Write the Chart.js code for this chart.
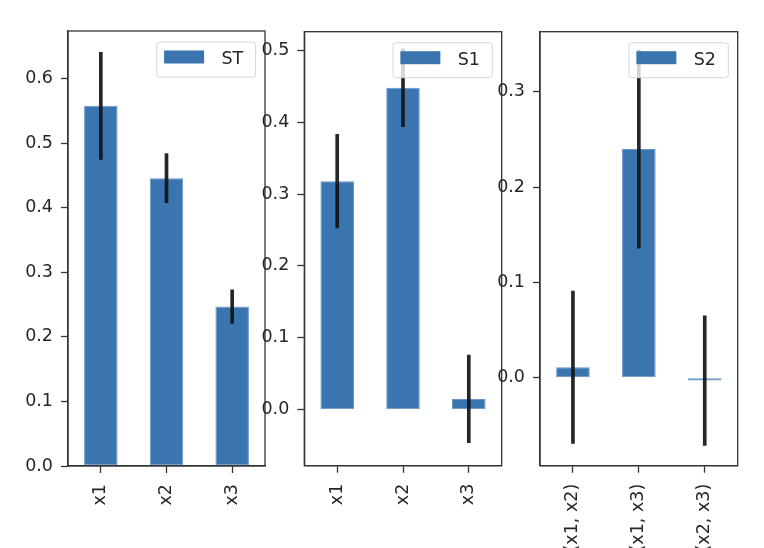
<!DOCTYPE html>
<html>
<head>
<meta charset="utf-8">
<script src="https://cdn.jsdelivr.net/npm/chart.js@4.4.1/dist/chart.umd.min.js"></script>
<style>
  html, body { margin: 0; padding: 0; background: #fff; }
  #wrap { position: relative; width: 764px; height: 548px; overflow: hidden; }
  canvas { position: absolute; top: 0; }
</style>
</head>
<body>
<div id="wrap">
  <canvas id="c1" width="275" height="548" style="left:0px"></canvas>
  <canvas id="c2" width="262" height="548" style="left:250px"></canvas>
  <canvas id="c3" width="284" height="548" style="left:480px"></canvas>
</div>
<script>
// data
const catsFirst = ['x1', 'x2', 'x3'];
const stVals = [0.558, 0.446, 0.247];
const stErr = [0.083, 0.038, 0.026];

const s1Vals = [0.318, 0.448, 0.015];
const s1Err = [0.065, 0.054, 0.061];

const catsSecond = ['(x1, x2)', '(x1, x3)', '(x2, x3)'];
const s2Vals = [0.011, 0.240, -0.003];
const s2Err = [0.080, 0.104, 0.068];

const ticksST = [0.0, 0.1, 0.2, 0.3, 0.4, 0.5, 0.6];
const ticksS1 = [0.0, 0.1, 0.2, 0.3, 0.4, 0.5];
const ticksS2 = [0.0, 0.1, 0.2, 0.3];

const barColor = '#3a75af';
const axisColor = '#333333';
const textColor = '#262626';
const fontFam = "'DejaVu Sans', sans-serif";
const fontSize = 17.5;

// box around the axes + matplotlib style legend on top of everything
const framePlugin = {
  id: 'frame',
  afterDatasetsDraw(chart) {
    const ctx = chart.ctx;
    const a = chart.chartArea;
    ctx.save();
    ctx.strokeStyle = axisColor;
    ctx.lineWidth = 1.3;
    ctx.strokeRect(a.left, a.top, a.right - a.left, a.bottom - a.top);

    const label = chart.data.datasets[0].label;
    ctx.font = fontSize + 'px ' + fontFam;
    const tw = ctx.measureText(label).width;
    const w = tw + 77;
    const h = 35;
    const x = a.right - 9.4 - w;
    const y = a.top + 11;
    ctx.beginPath();
    ctx.roundRect(x, y, w, h, 3);
    ctx.fillStyle = 'rgba(255,255,255,0.8)';
    ctx.fill();
    ctx.strokeStyle = '#d6d6d6';
    ctx.lineWidth = 1;
    ctx.stroke();
    ctx.fillStyle = chart.data.datasets[0].backgroundColor;
    ctx.fillRect(x + 7.3, y + 8.5, 40, 13);
    ctx.fillStyle = textColor;
    ctx.textBaseline = 'middle';
    ctx.textAlign = 'left';
    ctx.fillText(label, x + 64.6, y + h / 2);
    ctx.restore();
  }
};

function makePanel(id, cats, vals, errs, name, yMin, yMax, yTicks, yWidth, padTop, padRight, xHeight) {
  const bounds = vals.map((v, i) => [v - errs[i], v + errs[i]]);
  return new Chart(document.getElementById(id), {
    type: 'bar',
    data: {
      labels: cats,
      datasets: [
        {
          label: name,
          data: vals,
          backgroundColor: barColor,
          borderColor: 'rgba(88,138,193,0.9)',
          borderWidth: 1,
          borderSkipped: false,
          categoryPercentage: 1.0,
          barPercentage: 0.51,
          grouped: false,
          order: 2
        },
        {
          label: name + ' err',
          data: bounds,
          backgroundColor: 'rgba(20,20,20,0.92)',
          borderWidth: 0,
          barThickness: 3,
          grouped: false,
          order: 1
        }
      ]
    },
    options: {
      responsive: false,
      animation: false,
      layout: { padding: { top: padTop, right: padRight, left: 0, bottom: 0 } },
      plugins: {
        legend: { display: false },
        tooltip: { enabled: false }
      },
      scales: {
        x: {
          offset: true,
          grid: {
            display: true,
            offset: false,
            drawOnChartArea: false,
            drawTicks: true,
            tickLength: 7,
            tickWidth: 1.3,
            tickColor: axisColor
          },
          border: { display: true, color: axisColor, width: 1.3 },
          ticks: {
            autoSkip: false,
            minRotation: 90,
            maxRotation: 90,
            padding: 11,
            color: textColor,
            font: { family: fontFam, size: fontSize }
          },
          afterFit(scale) { scale.height = xHeight; }
        },
        y: {
          min: yMin,
          max: yMax,
          grid: {
            display: true,
            drawOnChartArea: false,
            drawTicks: true,
            tickLength: 7,
            tickWidth: 1.3,
            tickColor: axisColor
          },
          border: { display: true, color: axisColor, width: 1.3 },
          ticks: {
            padding: 8,
            color: textColor,
            font: { family: fontFam, size: fontSize },
            callback: v => v.toFixed(1)
          },
          afterBuildTicks(scale) {
            scale.ticks = yTicks.map(v => ({ value: v }));
          },
          afterFit(scale) { scale.width = yWidth; }
        }
      }
    },
    plugins: [framePlugin]
  });
}

makePanel('c1', catsFirst, stVals, stErr, 'ST', 0, 0.674, ticksST, 68, 31, 10, 82);
makePanel('c2', catsFirst, s1Vals, s1Err, 'S1', -0.078, 0.526, ticksS1, 54.3, 31.7, 10.3, 82.3);
makePanel('c3', catsSecond, s2Vals, s2Err, 'S2', -0.0923, 0.363, ticksS2, 60, 31.7, 26.3, 82.3);
</script>
</body>
</html>
